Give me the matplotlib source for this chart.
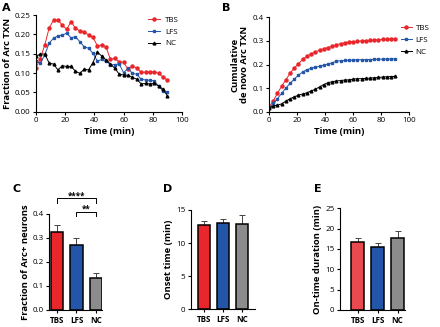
import matplotlib
matplotlib.use("Agg")
import matplotlib.pyplot as plt
import numpy as np

plt.rcParams['font.family'] = ['Open Sans', 'DejaVu Sans']

time = list(range(0, 91, 3))
groups = ["TBS", "LFS", "NC"]

frac_tbs = [0.114, 0.137, 0.173, 0.216, 0.237, 0.237, 0.224, 0.213, 0.233, 0.216, 0.209,
            0.205, 0.199, 0.192, 0.171, 0.172, 0.167, 0.135, 0.138, 0.129, 0.128, 0.110,
            0.118, 0.113, 0.102, 0.102, 0.103, 0.103, 0.099, 0.089, 0.082]
frac_lfs = [0.131, 0.125, 0.147, 0.177, 0.190, 0.196, 0.198, 0.203, 0.191, 0.194, 0.181,
            0.168, 0.164, 0.151, 0.131, 0.135, 0.132, 0.121, 0.122, 0.123, 0.101, 0.112,
            0.099, 0.097, 0.084, 0.082, 0.081, 0.080, 0.066, 0.054, 0.051]
frac_nc = [0.144, 0.149, 0.149, 0.126, 0.123, 0.108, 0.119, 0.117, 0.117, 0.105, 0.099,
           0.110, 0.108, 0.127, 0.154, 0.144, 0.134, 0.123, 0.112, 0.097, 0.095, 0.094,
           0.089, 0.084, 0.072, 0.073, 0.072, 0.073, 0.066, 0.058, 0.041]

cum_tbs = [0.020, 0.045, 0.078, 0.108, 0.135, 0.163, 0.185, 0.203, 0.222, 0.235, 0.245,
           0.253, 0.260, 0.267, 0.272, 0.277, 0.284, 0.288, 0.292, 0.295, 0.297, 0.298,
           0.300, 0.301, 0.302, 0.303, 0.305, 0.306, 0.307, 0.308, 0.310]
cum_lfs = [0.015, 0.035, 0.055, 0.078, 0.100, 0.120, 0.138, 0.155, 0.168, 0.178, 0.184,
           0.188, 0.192, 0.197, 0.202, 0.207, 0.214, 0.216, 0.217, 0.218, 0.219, 0.220,
           0.220, 0.221, 0.221, 0.222, 0.222, 0.223, 0.223, 0.224, 0.224]
cum_nc = [0.015, 0.025, 0.028, 0.033, 0.045, 0.055, 0.063, 0.070, 0.075, 0.080, 0.088,
          0.095, 0.105, 0.115, 0.123, 0.127, 0.130, 0.132, 0.134, 0.135, 0.138, 0.140,
          0.140, 0.141, 0.142, 0.144, 0.145, 0.147, 0.148, 0.149, 0.150]

arc_frac = [0.325, 0.272, 0.132]
arc_frac_err = [0.028, 0.030, 0.022]
onset = [12.8, 13.0, 12.9]
onset_err = [0.5, 0.6, 1.3]
ontime = [16.8, 15.6, 17.7]
ontime_err = [0.9, 0.8, 1.8]

RED = '#E8262C'
BLUE = '#2355A8'
GRAY = '#8C8C8C'

TICK = 5.8
LAB = 6.8

fig = plt.figure(figsize=(4.4, 3.27), dpi=100)
W, H = 440, 327

def ax_at(x0, y0, x1, y1):
    return fig.add_axes([x0 / W, 1 - y1 / H, (x1 - x0) / W, (y1 - y0) / H])

def style(ax):
    for s in ['top', 'right']:
        ax.spines[s].set_visible(False)
    for s in ['left', 'bottom']:
        ax.spines[s].set_linewidth(0.8)
    ax.tick_params(labelsize=TICK, width=0.8, length=2.5, pad=1.5)

# Panel A
axA = ax_at(36, 15, 182, 111.7)
axA.plot(time, frac_tbs, '-o', color=RED, label='TBS', lw=0.7, ms=2.2)
axA.plot(time, frac_lfs, '-s', color=BLUE, label='LFS', lw=0.7, ms=2.0)
axA.plot(time, frac_nc, '-^', color='black', label='NC', lw=0.7, ms=2.0)
axA.set_xlim(0, 100)
axA.set_ylim(0, 0.25)
axA.set_xticks(range(0, 101, 20))
axA.set_yticks(np.arange(0, 0.26, 0.05))
axA.set_yticklabels([f"{v:.2f}" for v in np.arange(0, 0.26, 0.05)])
axA.set_xlabel('Time (min)', fontsize=LAB, fontweight='bold', labelpad=2)
axA.set_ylabel('Fraction of Arc TXN', fontsize=LAB, fontweight='bold', labelpad=2)
style(axA)
axA.legend(loc='upper left', bbox_to_anchor=(0.72, 1.06), frameon=False, fontsize=TICK,
           handlelength=1.5, handletextpad=0.6, labelspacing=0.5)

# Panel B
axB = ax_at(269, 17.3, 409.3, 111.7)
axB.plot(time, cum_tbs, '-o', color=RED, label='TBS', lw=0.7, ms=2.2)
axB.plot(time, cum_lfs, '-s', color=BLUE, label='LFS', lw=0.7, ms=2.0)
axB.plot(time, cum_nc, '-^', color='black', label='NC', lw=0.7, ms=2.0)
axB.set_xlim(0, 100)
axB.set_ylim(0, 0.4)
axB.set_xticks(range(0, 101, 20))
axB.set_yticks(np.arange(0, 0.41, 0.1))
axB.set_yticklabels([f"{v:.1f}" for v in np.arange(0, 0.41, 0.1)])
axB.set_xlabel('Time (min)', fontsize=LAB, fontweight='bold', labelpad=2)
axB.set_ylabel('Cumulative\nde novo Arc TXN', fontsize=LAB, fontweight='bold', labelpad=2,
               linespacing=1.1)
style(axB)
axB.legend(loc='upper left', bbox_to_anchor=(0.89, 1.0), frameon=False, fontsize=TICK,
           handlelength=1.3, handletextpad=0.5, labelspacing=0.5)

def bars(ax, vals, errs, colors, xlim):
    x = np.arange(len(vals))
    ax.bar(x, vals, width=0.65, color=colors, edgecolor='black', linewidth=1.1, zorder=2)
    for xi, v, e in zip(x, vals, errs):
        ax.errorbar(xi, v, yerr=[[0], [e]], color='#444444', capsize=2.2, lw=0.7,
                    capthick=0.7, zorder=1)
    ax.set_xticks(x)
    ax.set_xticklabels(groups, fontsize=TICK, fontweight='bold')
    ax.set_xlim(*xlim)
    style(ax)

# Panel C
axC = ax_at(49.3, 214, 101.7, 310)
bars(axC, arc_frac, arc_frac_err, [RED, BLUE, GRAY], (-0.4, 2.3))
axC.set_ylim(0, 0.4)
axC.set_yticks(np.arange(0, 0.41, 0.1))
axC.set_yticklabels([f"{v:.1f}" for v in np.arange(0, 0.41, 0.1)])
axC.set_ylabel('Fraction of Arc+ neurons', fontsize=LAB, fontweight='bold', labelpad=2)
for (x0, x1, y, txt) in [(0, 2, 0.465, '****'), (1, 2, 0.41, '**')]:
    axC.plot([x0, x0, x1, x1], [y - 0.018, y, y, y - 0.018], color='black', lw=0.7,
             clip_on=False)
    axC.text((x0 + x1) / 2, y - 0.008, txt, ha='center', va='bottom', fontsize=TICK,
             fontweight='bold')

# Panel D
axD = ax_at(190.7, 210, 255, 309.3)
bars(axD, onset, onset_err, [RED, BLUE, GRAY], (-0.7, 2.7))
axD.set_ylim(0, 15)
axD.set_yticks([0, 5, 10, 15])
axD.set_ylabel('Onset time (min)', fontsize=LAB, fontweight='bold', labelpad=2)

# Panel E
axE = ax_at(340, 208.3, 405, 310)
bars(axE, ontime, ontime_err, ['#E84A50', BLUE, GRAY], (-0.88, 2.37))
axE.set_ylim(0, 25)
axE.set_yticks([0, 5, 10, 15, 20, 25])
axE.set_ylabel('On-time duration (min)', fontsize=LAB, fontweight='bold', labelpad=2)

for lbl, x, y in [('A', 2, 8), ('B', 222, 8), ('C', 12, 189), ('D', 163, 189), ('E', 314, 189)]:
    fig.text(x / W, 1 - y / H, lbl, fontsize=8, fontweight='bold', ha='left', va='center',
             family='DejaVu Sans')

fig.savefig('out.png', dpi=100)
